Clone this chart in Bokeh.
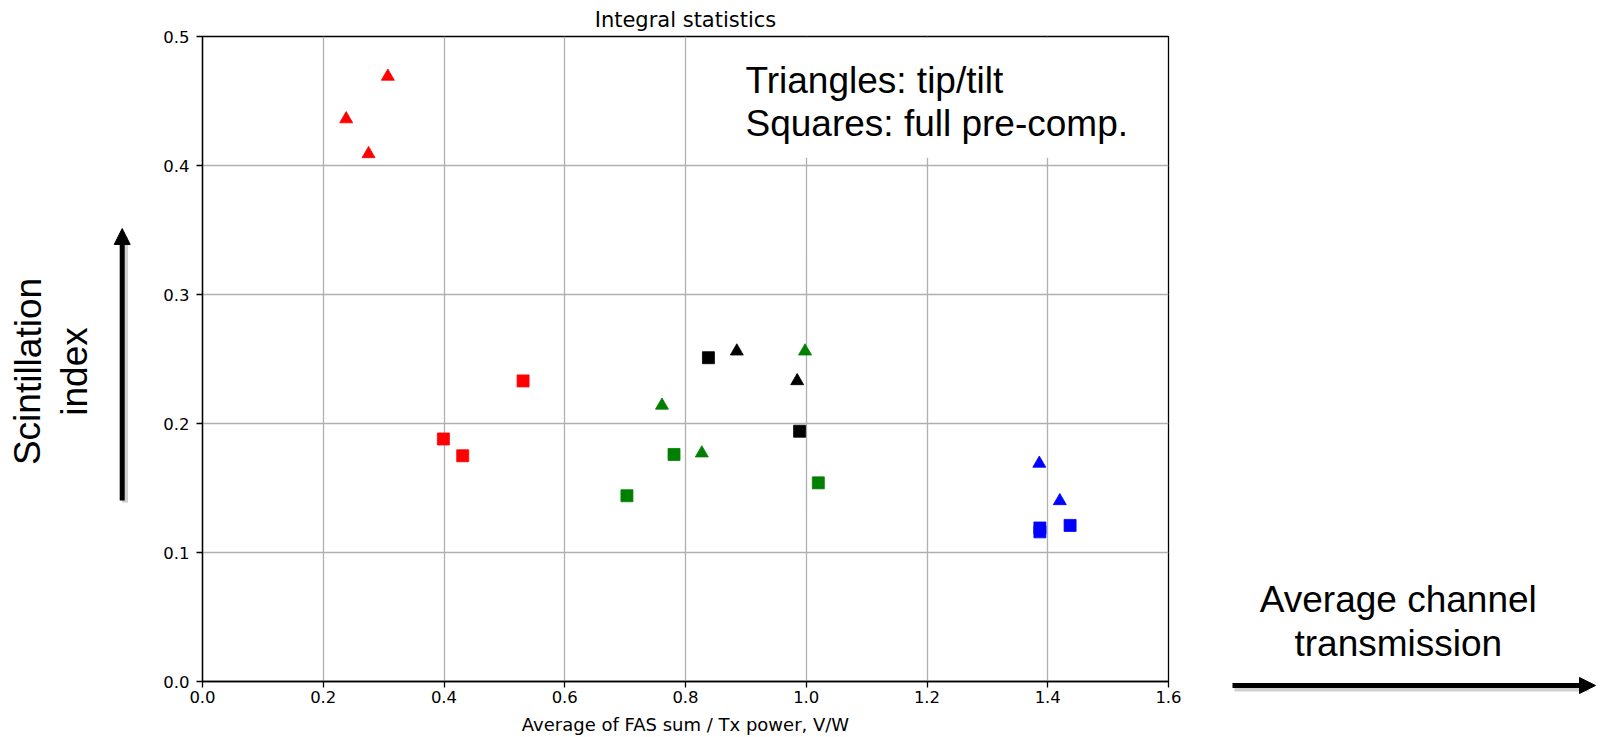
from bokeh.plotting import figure
from bokeh.layouts import row
from bokeh.models import Range1d, FixedTicker, Label, Arrow, NormalHead
from bokeh.embed import file_html
from bokeh.resources import INLINE

# Scintillation index vs. average FAS sum / Tx power, per run group
red_tri_x = [0.238, 0.275, 0.307]
red_tri_y = [0.436, 0.409, 0.469]
red_sq_x = [0.399, 0.431, 0.531]
red_sq_y = [0.188, 0.175, 0.233]

green_tri_x = [0.761, 0.827, 0.998]
green_tri_y = [0.214, 0.177, 0.256]
green_sq_x = [0.703, 0.781, 1.020]
green_sq_y = [0.144, 0.176, 0.154]

black_tri_x = [0.885, 0.985]
black_tri_y = [0.256, 0.233]
black_sq_x = [0.838, 0.989]
black_sq_y = [0.251, 0.194]

blue_tri_x = [1.386, 1.420]
blue_tri_y = [0.169, 0.140]
blue_sq_x = [1.387, 1.387, 1.437]
blue_sq_y = [0.119, 0.116, 0.121]

x_ticks = [0.0, 0.2, 0.4, 0.6, 0.8, 1.0, 1.2, 1.4, 1.6]
x_tick_labels = ["0.0", "0.2", "0.4", "0.6", "0.8", "1.0", "1.2", "1.4", "1.6"]
y_ticks = [0.0, 0.1, 0.2, 0.3, 0.4, 0.5]
y_tick_labels = ["0.0", "0.1", "0.2", "0.3", "0.4", "0.5"]

H = 737
MPL_FONT = "DejaVu Sans"
SLIDE_FONT = "Liberation Sans"

# ---------------- main scatter panel ----------------
p = figure(width=1048, height=H, x_range=Range1d(0, 1.6), y_range=Range1d(0, 0.5),
           output_backend="svg", toolbar_location=None, frame_align=False,
           min_border_left=62, min_border_right=20, min_border_top=36, min_border_bottom=56,
           title="Integral statistics")
p.title.align = "center"
p.title.text_font = MPL_FONT
p.title.text_font_size = "21px"
p.title.text_font_style = "normal"
p.title.text_color = "black"
p.title.standoff = 9

p.background_fill_color = "white"
p.border_fill_color = "white"
p.outline_line_color = "black"
p.outline_line_width = 1.3

p.xaxis.ticker = FixedTicker(ticks=x_ticks)
p.xaxis.major_label_overrides = dict(zip(x_ticks, x_tick_labels))
p.yaxis.ticker = FixedTicker(ticks=y_ticks)
p.yaxis.major_label_overrides = dict(zip(y_ticks, y_tick_labels))

for ax in (p.xaxis[0], p.yaxis[0]):
    ax.axis_line_color = "black"
    ax.axis_line_width = 1.3
    ax.major_tick_line_color = "black"
    ax.major_tick_line_width = 1.3
    ax.major_tick_in = 0
    ax.major_tick_out = 6
    ax.minor_tick_line_color = None
    ax.major_label_text_font = MPL_FONT
    ax.major_label_text_font_size = "16.5px"
    ax.major_label_text_color = "black"

p.xaxis.major_label_standoff = 3
p.yaxis.major_label_standoff = 7
p.xaxis.axis_label = "Average of FAS sum / Tx power, V/W"
p.xaxis.axis_label_text_font = MPL_FONT
p.xaxis.axis_label_text_font_size = "18px"
p.xaxis.axis_label_text_font_style = "normal"
p.xaxis.axis_label_text_color = "black"
p.xaxis.axis_label_standoff = 8

p.grid.grid_line_color = "#b0b0b0"
p.grid.grid_line_width = 1.3

# white text box in the upper right corner, hiding the grid behind the note
p.quad(left=0.8745, right=1.5975, bottom=0.406, top=0.4988,
       fill_color="white", line_color=None)

SQ = 12
TRI = 13
groups = [
    ("red", red_tri_x, red_tri_y, red_sq_x, red_sq_y),
    ("green", green_tri_x, green_tri_y, green_sq_x, green_sq_y),
    ("black", black_tri_x, black_tri_y, black_sq_x, black_sq_y),
    ("blue", blue_tri_x, blue_tri_y, blue_sq_x, blue_sq_y),
]
for color, tx, ty, sx, sy in groups:
    p.scatter(tx, ty, marker="triangle", size=TRI, fill_color=color, line_color=color, line_width=0.8)
    p.scatter(sx, sy, marker="square", size=SQ, fill_color=color, line_color=color, line_width=0.8)

for txt, yv in (("Triangles: tip/tilt", 0.466), ("Squares: full pre-comp.", 0.4325)):
    p.add_layout(Label(x=0.8994, y=yv, text=txt, text_font=SLIDE_FONT,
                       text_font_size="37px", text_color="black",
                       text_align="left", text_baseline="alphabetic"))

# ---------------- left side: vertical arrow and label ----------------
left = figure(width=140, height=H, x_range=Range1d(0, 140), y_range=Range1d(0, H),
              output_backend="svg", toolbar_location=None, frame_align=False,
              x_axis_location=None, y_axis_location=None, min_border=0)
left.outline_line_color = None
left.grid.visible = False
left.border_fill_color = "white"

left.segment(x0=[124.5], y0=[235], x1=[124.5], y1=[500], line_color="#000000",
             line_alpha=0.18, line_width=6)
left.add_layout(Arrow(end=NormalHead(size=16, fill_color="black", line_color="black"),
                      x_start=121.7, y_start=237, x_end=121.7, y_end=509,
                      line_color="black", line_width=5))
for txt, xb in (("Scintillation", 27.5), ("index", 73.5)):
    left.add_layout(Label(x=xb, y=366, text=txt, angle=1.5707963,
                          text_font=SLIDE_FONT, text_font_size="37px", text_color="black",
                          text_align="center", text_baseline="alphabetic"))

# ---------------- right side: horizontal arrow and label ----------------
right = figure(width=413, height=H, x_range=Range1d(0, 413), y_range=Range1d(0, H),
               output_backend="svg", toolbar_location=None, frame_align=False,
               x_axis_location=None, y_axis_location=None, min_border=0)
right.outline_line_color = None
right.grid.visible = False
right.border_fill_color = "white"

right.segment(x0=[46], y0=[49], x1=[400], y1=[49], line_color="#000000",
              line_alpha=0.18, line_width=6)
right.add_layout(Arrow(end=NormalHead(size=16, fill_color="black", line_color="black"),
                       x_start=44, y_start=52, x_end=407, y_end=52,
                       line_color="black", line_width=5))
for txt, yb in (("Average channel", 138.3), ("transmission", 94)):
    right.add_layout(Label(x=209.8, y=yb, text=txt, text_font=SLIDE_FONT,
                           text_font_size="37px", text_color="black",
                           text_align="center", text_baseline="alphabetic"))

layout = row(left, p, right, spacing=0)
open("out.html", "w").write(file_html(layout, INLINE))
